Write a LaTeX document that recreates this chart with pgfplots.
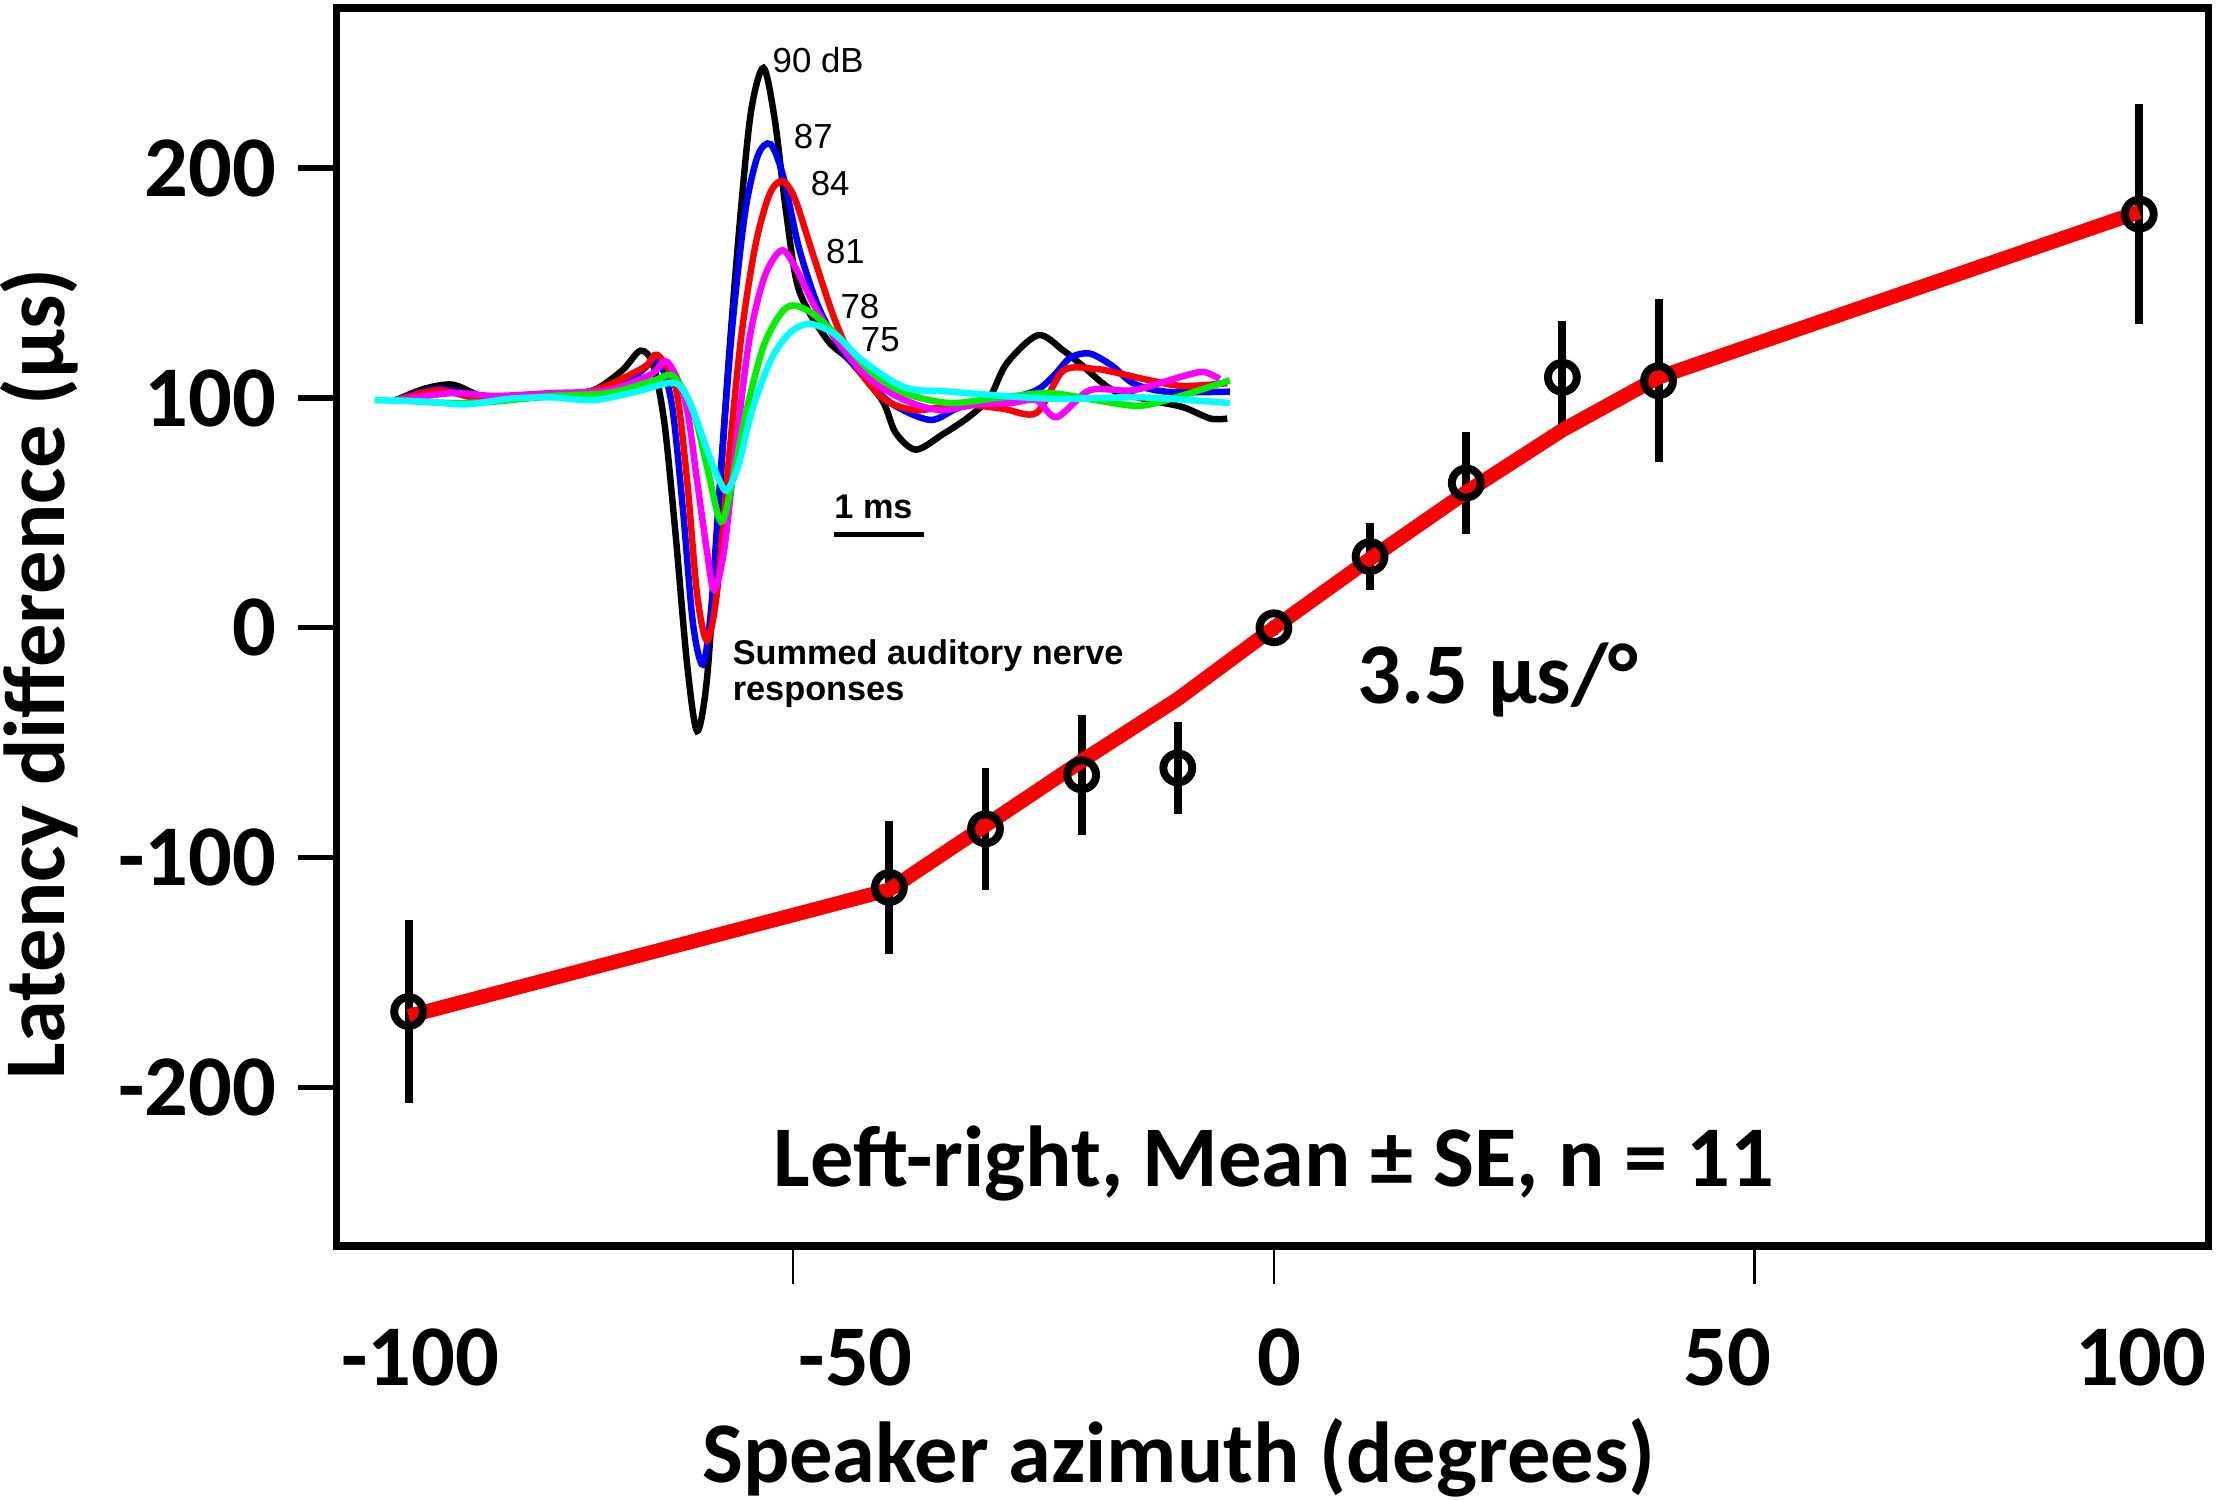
\documentclass[border=0pt]{standalone}
\usepackage{fontspec}
\setmainfont{Carlito}
\newfontfamily\arial{Liberation Sans}
\usepackage{pgfplots}
\usepackage{pgfplotstable}
\pgfplotsset{compat=1.18}
\definecolor{cBlack}{RGB}{0,0,0}
\definecolor{cBlue}{RGB}{0,0,255}
\definecolor{cRed}{RGB}{255,0,0}
\definecolor{cMag}{RGB}{255,0,255}
\definecolor{cGreen}{RGB}{0,240,0}
\definecolor{cCyan}{RGB}{0,255,255}
\definecolor{fitred}{RGB}{250,0,0}
\newcommand{\bigfont}{\fontsize{17.4}{20}\selectfont\bfseries}
\newcommand{\insetfont}{\arial\fontsize{7}{7.1}\selectfont}
\newcommand{\insetbold}{\arial\fontsize{6.9}{7.1}\selectfont\bfseries}

\pgfplotstableread{
x y e
-100 -167 40
-40 -113 29
-30 -87.5 26.5
-20 -64 26
-10 -61 20
0 0 3
10 31 14.5
20 63 22
30 109 24.5
40 107.5 35.5
100 180 48
}\pts

\pgfplotstableread{
x y
-100 -169
-40 -114
-30 -86
-20 -58
-10 -31
0 0
10 30
20 59
30 86
40 109
100 181
}\fit

\begin{document}
\begin{tikzpicture}
\useasboundingbox (-2.38cm,-1.80cm) rectangle (13.30cm,8.81cm);
\begin{axis}[
  at={(0,0)}, anchor=south west,
  scale only axis, width=13.24cm, height=8.75cm,
  xmin=-109.375, xmax=109, ymin=-268.9, ymax=269.5,
  x coord trafo/.code={\pgfmathparse{#1>50 ? 50+0.8*(#1-50) : (#1<-50 ? -50+0.8*(#1+50) : #1)}},
  axis line style={line width=1.6pt},
  tick align=outside,
  major tick length=0.27cm,
  xtick pos=bottom, ytick pos=left,
  xtick={-98.5,-43.5,0.6,47.2,100.2},
  xticklabels={-100,-50,0,50,100},
  xtick style={draw=none},
  extra x ticks={-50,0,50},
  extra x tick labels={},
  extra x tick style={xtick style={draw=black, line width=0.5pt}},
  ytick={-200,-100,0,100,200},
  yticklabels={-200,-100,0,100,200},
  ytick style={line width=1.1pt, black},
  xticklabel style={font=\bigfont, anchor=north, inner sep=0pt, yshift=-0.31cm},
  yticklabel style={font=\bigfont, anchor=east, inner sep=0pt, xshift=-0.15cm},
  xlabel={Speaker azimuth (degrees)},
  ylabel={Latency difference (µs)},
  xlabel style={font=\bigfont, at={(axis description cs:0.450,-0.171)}, anchor=center},
  ylabel style={font=\bigfont, at={(axis description cs:-0.1586,0.462)}, anchor=center},
]
\addplot[black, only marks, mark=o, mark size=2.9pt, mark options={line width=1.6pt},
  error bars/.cd, y dir=both, y explicit, error mark=none,
  error bar style={line width=1.6pt, black}]
  table[x=x, y=y, y error=e] {\pts};
\addplot[fitred, line width=2.9pt, line join=round] table[x=x, y=y] {\fit};
\node[font=\bigfont, anchor=base] at (axis cs:0,-243) {Left-right, Mean ± SE, n = 11};
\node[font=\bigfont, anchor=base] at (axis cs:23.3,-33) {3.5 µs/°};
\end{axis}

\begin{axis}[
  at={(0.27cm,3.48cm)}, anchor=south west,
  scale only axis, width=6.12cm, height=5cm,
  xmin=0, xmax=10.2, ymin=-250, ymax=250,
  hide axis, clip=false,
  every axis plot/.append style={line width=1.3pt, smooth, tension=0.5},
]
\addplot[cBlack] coordinates {(0.25,0) (0.583,8) (0.917,11) (1.25,3) (1.583,1) (1.917,2) (2.25,4) (2.583,7) (2.917,21) (3.133,35) (3.283,25) (3.417,-17) (3.55,-97) (3.683,-187) (3.8,-234) (3.917,-197) (4.033,-97) (4.167,23) (4.3,123) (4.433,203) (4.583,235) (4.717,198) (4.85,133) (5.0,78) (5.33,43) (5.6,28) (5.98,0) (6.14,-23) (6.38,-35) (6.7,-24) (7.0,-12) (7.25,2) (7.45,26) (7.82,46) (8.12,35) (8.35,24) (8.7,7) (9.14,0) (9.53,-5) (9.85,-13) (10.05,-13)};
\addplot[cBlue] coordinates {(0.25,0) (0.75,8) (1.25,2) (1.917,4) (2.583,5) (3.083,18) (3.333,28) (3.5,-2) (3.633,-77) (3.75,-157) (3.867,-187) (3.967,-147) (4.083,-47) (4.217,53) (4.367,133) (4.517,173) (4.667,181) (4.817,158) (5.0,108) (5.217,68) (5.45,41) (5.75,18) (6.083,-2) (6.55,-14) (6.9,-5) (7.41,0) (7.8,7) (8.0,17) (8.2,30) (8.43,33) (8.7,24) (8.94,12) (9.33,6) (10.08,6)};
\addplot[cRed] coordinates {(0.25,0) (0.75,7) (1.25,1) (1.917,3) (2.583,7) (3.167,23) (3.333,32) (3.55,8) (3.683,-57) (3.8,-137) (3.917,-170) (4.033,-137) (4.167,-47) (4.317,43) (4.483,108) (4.65,145) (4.8,155) (4.95,143) (5.167,103) (5.417,58) (5.667,25) (6.0,1) (6.38,-7) (6.9,-3) (7.4,-6) (7.8,-9) (8.12,21) (8.5,22) (8.7,20) (9.14,14) (9.53,10) (10.05,12)};
\addplot[cMag] coordinates {(0.25,0) (0.917,5) (1.417,3) (2.083,5) (2.75,7) (3.25,18) (3.45,27) (3.667,-2) (3.8,-57) (3.917,-107) (4.0,-134) (4.117,-107) (4.25,-37) (4.417,43) (4.6,88) (4.8,106) (4.967,93) (5.217,63) (5.5,38) (5.833,15) (6.25,0) (6.667,-7) (7.083,-3) (7.5,-2) (7.8,0) (8.04,-12) (8.43,7) (8.94,7) (9.53,17) (9.77,20) (9.96,15)};
\addplot[cGreen] coordinates {(0.25,0) (0.917,-2) (1.417,-1) (2.083,3) (2.75,5) (3.25,13) (3.517,17) (3.75,-7) (3.917,-47) (4.083,-86) (4.217,-57) (4.383,-7) (4.583,38) (4.783,61) (4.933,67) (5.167,61) (5.5,43) (5.833,21) (6.25,5) (6.78,-2) (7.4,2) (7.96,5) (8.5,0) (9.02,-4) (9.5,3) (10.08,14)};
\addplot[cCyan] coordinates {(0,0) (0.583,-1) (1.083,-3) (1.583,1) (2.083,2) (2.583,0) (3.083,6) (3.55,12) (3.75,-7) (3.917,-35) (4.05,-55) (4.15,-64) (4.283,-47) (4.45,-7) (4.667,28) (4.883,47) (5.117,54) (5.417,47) (5.75,28) (6.25,9) (6.78,6) (7.96,1) (9.02,2) (10.08,-2)};
\addplot[black, line width=1.2pt, sharp plot] coordinates {(5.42,-95) (6.47,-95)};
\node[font=\insetfont, anchor=west, inner sep=0pt] at (axis cs:4.68,240.6) {90 dB};
\node[font=\insetfont, anchor=west, inner sep=0pt] at (axis cs:4.93,186.3) {87};
\node[font=\insetfont, anchor=west, inner sep=0pt] at (axis cs:5.13,153.4) {84};
\node[font=\insetfont, anchor=west, inner sep=0pt] at (axis cs:5.31,105) {81};
\node[font=\insetfont, anchor=west, inner sep=0pt] at (axis cs:5.48,66.1) {78};
\node[font=\insetfont, anchor=west, inner sep=0pt] at (axis cs:5.72,42.5) {75};
\node[font=\insetbold, anchor=center, inner sep=0pt] at (axis cs:5.88,-75.7) {1 ms};
\node[font=\insetbold, anchor=west, inner sep=0pt, align=left] at (axis cs:4.21,-193.5) {Summed auditory nerve\\responses};
\end{axis}
\end{tikzpicture}
\end{document}
